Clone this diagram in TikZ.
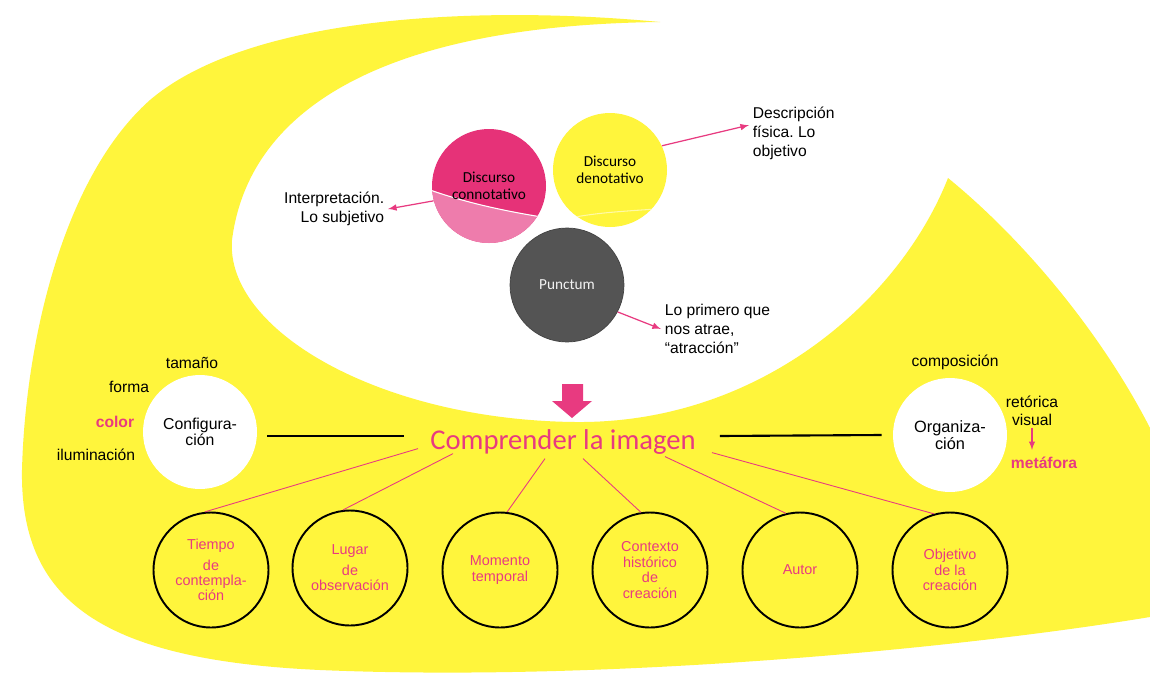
\documentclass[tikz,border=0pt]{standalone}
\usepackage{fontspec}
\setmainfont{Liberation Sans}
\newfontfamily\calfont{Carlito}
\usetikzlibrary{calc}
\frenchspacing

\definecolor{blobyellow}{RGB}{255,245,60}
\definecolor{textpink}{RGB}{232,58,128}
\definecolor{connodark}{RGB}{230,50,120}
\definecolor{connolight}{RGB}{238,124,172}
\definecolor{punctgray}{RGB}{84,84,84}

\begin{document}
\begin{tikzpicture}[x=0.02cm,y=-0.02cm,>=latex,
    bubble/.style={circle,minimum size=2.28cm,inner sep=0pt,align=center,
                   font=\calfont\fontsize{8.7}{9.6}\selectfont},
    whitedisc/.style={circle,fill=white,minimum size=2.28cm,inner sep=0pt,align=center,
                   font=\fontsize{9}{9}\selectfont},
    ring/.style={circle,draw=black,line width=1.1pt,minimum size=2.3cm,inner sep=0pt,
                 align=center,text=textpink,font=\fontsize{8.2}{8.8}\selectfont},
    note/.style={font=\fontsize{8.9}{10.8}\selectfont,inner sep=2pt},
    word/.style={font=\fontsize{8.9}{10}\selectfont,inner sep=1pt},
    pinkarrow/.style={->,draw=textpink,line width=0.7pt},
    spoke/.style={draw=textpink,line width=0.5pt},
    bar/.style={draw=black,line width=1.2pt}]

        \useasboundingbox (0,0) rectangle (1150,676);
        \fill[white] (0,0) rectangle (1150,676);

        % yellow blob with the white bay cut out of it
        \fill[blobyellow] (660,22) .. controls (480,5) and (250,15) .. (150,100)
            .. controls (60,180) and (25,350) .. (22,470)
            .. controls (20,600) and (100,660) .. (320,670)
            .. controls (600,682) and (950,650) .. (1150,617)
            -- (1150,428)
            .. controls (1105,340) and (1030,245) .. (948,178)
            .. controls (900,300) and (760,424) .. (575,422)
            .. controls (380,420) and (225,330) .. (232,240)
            .. controls (250,100) and (400,25) .. (660,22) -- cycle;

        % the three discs of the upper part
        \fill[connodark] (489,186) circle (57);
        \begin{scope}
            \clip (489,186) circle (57);
            \fill[connolight] (430,190) .. controls (470,204) and (510,212) .. (548,218)
                -- (548,250) -- (430,250) -- cycle;
            \draw[white,line width=0.6pt] (430,190) .. controls (470,204) and (510,212) .. (548,218);
        \end{scope}
        \fill[blobyellow] (610,170) circle (57);
        \begin{scope}
            \clip (610,170) circle (57);
            \draw[white!55!blobyellow,line width=0.6pt] (570,218) .. controls (600,212) and (630,211) .. (670,208);
        \end{scope}

        \node[bubble] (conno) at (489,186) {Discurso\\connotativo};
        \node[bubble] (deno) at (610,170) {Discurso\\denotativo};
        \node[bubble,fill=punctgray,draw=punctgray!80!black,text=white!90!gray] (punct) at (567,285) {Punctum};

        \node[note,align=right,anchor=east] (interp) at (388,209) {Interpretación.\\Lo subjetivo};
        \node[note,align=left,anchor=west] (descr) at (749,133) {Descripción\\física. Lo\\objetivo};
        \node[note,align=left,anchor=west] (primero) at (661,329) {Lo primero que\\nos atrae,\\“atracción”};

        \draw[pinkarrow] (conno.195) -- (interp.east);
        \draw[pinkarrow] (deno.25) -- (descr.170);
        \draw[pinkarrow] (punct.-28) -- (primero.west);

        % block arrow down to the centre
        \fill[textpink] (562,384) -- (583,384) -- (583,401) -- (592,401) -- (572,418)
            -- (552,401) -- (562,401) -- cycle;

        \node[text=textpink,font=\calfont\fontsize{16.3}{18}\selectfont] (comp) at (563,442) {Comprender la imagen};

        % left and right discs
        \node[whitedisc] (config) at (200,432) {Configura-\\ción};
        \node[whitedisc,font=\fontsize{9.3}{9.6}\selectfont] (organ) at (950,435) {Organiza-\\ción};

        \node[word] (tam) at (192,363) {tamaño};
        \node[word] (forma) at (129,387) {forma};
        \node[word,text=textpink,font=\bfseries\fontsize{8.9}{10}\selectfont] (color) at (115,422) {color};
        \node[word] (ilum) at (96,455) {iluminación};

        \node[word] (compos) at (955,362) {composición};
        \node[word,align=center,font=\fontsize{8.9}{10}\selectfont] (retor) at (1032,411) {retórica\\visual};
        \node[word,text=textpink,font=\bfseries\fontsize{8.9}{10}\selectfont] (metaf) at (1044,463) {metáfora};
        \draw[->,draw=textpink,line width=0.6pt,shorten >=3pt] (retor.south) -- (retor.south |- metaf.north);

        \draw[bar] ([shift={(10,4)}]config.east) -- ([shift={(-20,-6)}]comp.west);
        \draw[bar] ([shift={(18,-6)}]comp.east) -- ([shift={(-11,0)}]organ.west);

        % the six rings along the bottom
        \node[ring] (tiempo) at (211,570) {Tiempo\\[3pt]de\\contempla-\\ción};
        \node[ring] (lugar) at (350,568) {Lugar\\[3pt]de\\observación};
        \node[ring] (momento) at (500,570) {Momento\\temporal};
        \node[ring] (contexto) at (650,570) {Contexto\\histórico\\de\\creación};
        \node[ring] (autor) at (800,570) {Autor};
        \node[ring] (objetivo) at (950,570) {Objetivo\\de la\\creación};

        \foreach \n/\dx/\dy/\a in {tiempo/-145/-12/96, lugar/-110/-7/97, momento/-18/-2/83,
                                   contexto/20/-2/99, autor/102/-4/104, objetivo/149/-8/106}
            \draw[spoke] ([shift={(\dx,\dy)}]comp.south) -- (\n.\a);

    \end{tikzpicture}
\end{document}
